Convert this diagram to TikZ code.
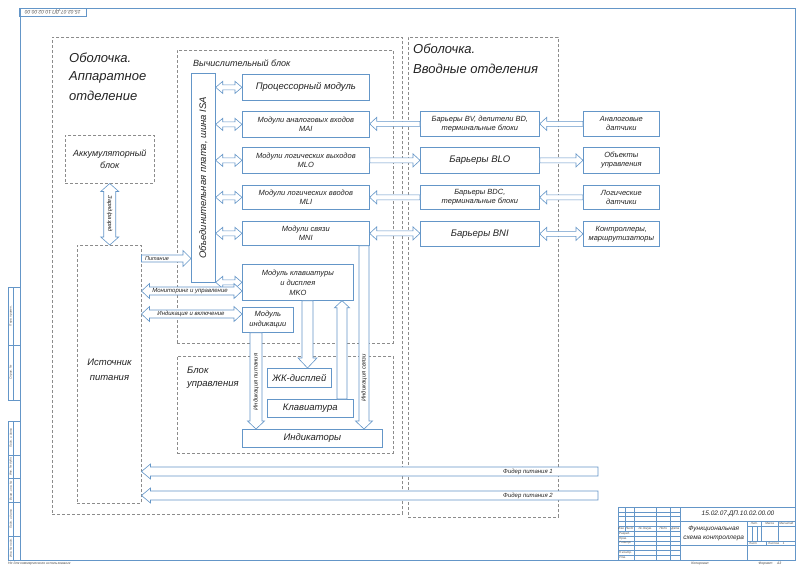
\documentclass[tikz,border=0pt]{standalone}
\usepackage{fontspec}
\setmainfont{Liberation Sans}
\usetikzlibrary{calc}
\definecolor{bl}{RGB}{100,150,200}
\definecolor{dg}{RGB}{140,140,140}
\definecolor{tx}{RGB}{35,35,35}
\newcommand\fs[2]{\fontsize{#1}{#2}\selectfont\itshape}
% horizontal single arrow: start, end, shaft half, head half, head length
\newcommand\hsA[5]{\draw[arr] let \p1=(#1), \p2=(#2), \n1={sign(\x2-\x1)} in
 (\x1,{\y1+#3pt}) -- ({\x2-(\n1)*#5pt},{\y1+#3pt}) -- ({\x2-(\n1)*#5pt},{\y1+#4pt}) -- (\x2,\y1) -- ({\x2-(\n1)*#5pt},{\y1-#4pt}) -- ({\x2-(\n1)*#5pt},{\y1-#3pt}) -- (\x1,{\y1-#3pt}) -- cycle;}
\newcommand\hdA[5]{\draw[arr] let \p1=(#1), \p2=(#2), \n1={sign(\x2-\x1)} in
 (\x1,\y1) -- ({\x1+(\n1)*#5pt},{\y1+#4pt}) -- ({\x1+(\n1)*#5pt},{\y1+#3pt}) -- ({\x2-(\n1)*#5pt},{\y1+#3pt}) -- ({\x2-(\n1)*#5pt},{\y1+#4pt}) -- (\x2,\y1) -- ({\x2-(\n1)*#5pt},{\y1-#4pt}) -- ({\x2-(\n1)*#5pt},{\y1-#3pt}) -- ({\x1+(\n1)*#5pt},{\y1-#3pt}) -- ({\x1+(\n1)*#5pt},{\y1-#4pt}) -- cycle;}
\newcommand\vsA[5]{\draw[arr] let \p1=(#1), \p2=(#2), \n1={sign(\y2-\y1)} in
 ({\x1+#3pt},\y1) -- ({\x1+#3pt},{\y2-(\n1)*#5pt}) -- ({\x1+#4pt},{\y2-(\n1)*#5pt}) -- (\x1,\y2) -- ({\x1-#4pt},{\y2-(\n1)*#5pt}) -- ({\x1-#3pt},{\y2-(\n1)*#5pt}) -- ({\x1-#3pt},\y1) -- cycle;}
\newcommand\vdA[5]{\draw[arr] let \p1=(#1), \p2=(#2), \n1={sign(\y2-\y1)} in
 (\x1,\y1) -- ({\x1+#4pt},{\y1+(\n1)*#5pt}) -- ({\x1+#3pt},{\y1+(\n1)*#5pt}) -- ({\x1+#3pt},{\y2-(\n1)*#5pt}) -- ({\x1+#4pt},{\y2-(\n1)*#5pt}) -- (\x1,\y2) -- ({\x1-#4pt},{\y2-(\n1)*#5pt}) -- ({\x1-#3pt},{\y2-(\n1)*#5pt}) -- ({\x1-#3pt},{\y1+(\n1)*#5pt}) -- ({\x1-#4pt},{\y1+(\n1)*#5pt}) -- cycle;}
% box by corners
\newcommand\rbox[7][]{\node[#1, anchor=north west, minimum width={#5-#3}, minimum height={#6-#4}] (#2) at (#3,#4) {#7};}
\tikzset{
 frm/.style={draw=bl, line width=0.7pt},
 fln/.style={draw=bl, line width=0.35pt},
 box/.style={draw=bl, line width=0.7pt, fill=white, inner sep=1pt, align=center, text=tx, font=\fs{7.5}{9}},
 dbox/.style={draw=dg, line width=0.5pt, dash pattern=on 3pt off 2pt, inner sep=0},
 arr/.style={draw=bl, line width=0.6pt, fill=white, line join=miter},
 lab/.style={text=tx, font=\fs{6}{7}, inner sep=0},
 head/.style={text=tx, font=\fs{13}{19}, inner sep=0, anchor=west},
 tiny/.style={text=tx!80, font=\fs{3}{3.5}, inner sep=0},
}
\begin{document}
\begin{tikzpicture}[x=1pt,y=-1pt]
\useasboundingbox (0,0) rectangle (800,566);
\fill[white] (0,0) rectangle (800,566);
% ---------- drawing frame ----------
\draw[frm] (20,8) rectangle (795,560);
\rbox[fln, inner sep=0]{tlbox}{19}{8}{86}{16}{}
\node[tiny, rotate=180, font=\fs{5}{6}] at (tlbox.center) {15.02.07.ДП.10.02.00.00};
% left strip
\draw[fln] (8.5,287) rectangle (20,400);
\draw[fln] (8.5,345) -- (20,345) (13.3,287) -- (13.3,400);
\draw[fln] (8.5,421.2) rectangle (20,560);
\draw[fln] (13.3,421.2) -- (13.3,560);
\foreach \y in {454.7,478.6,502.5,536} \draw[fln] (8.5,\y) -- (20,\y);
\node[tiny, rotate=90] at (10.9,316) {Перв. примен.};
\node[tiny, rotate=90] at (10.9,372.5) {Справ. №};
\node[tiny, rotate=90] at (10.9,438) {Подп. и дата};
\node[tiny, rotate=90] at (10.9,466.6) {Инв. № дубл.};
\node[tiny, rotate=90] at (10.9,490.5) {Взам. инв. №};
\node[tiny, rotate=90] at (10.9,519.2) {Подп. и дата};
\node[tiny, rotate=90] at (10.9,548) {Инв. № подл.};
% title block
\draw[frm] (618,507) rectangle (795,560);
\foreach \y in {511.8,516.6,521.4,526.2,531.1,535.9,540.7,545.5,550.3,555.1} \draw[fln] (618,\y) -- (680.2,\y);
\draw[fln] (624.7,507) -- (624.7,531.1);
\foreach \x in {634.3,656.3,670.6} \draw[fln] (\x,507) -- (\x,560);
\draw[frm] (680.2,507) -- (680.2,560);
\draw[frm] (680.2,521.4) -- (795,521.4);
\draw[frm] (747.2,521.4) -- (747.2,560);
\draw[fln] (747.2,526.2) -- (795,526.2) (747.2,540.7) -- (795,540.7);
\draw[frm] (680.2,545.5) -- (795,545.5);
\draw[fln] (752,526.2) -- (752,540.7) (756.8,526.2) -- (756.8,540.7);
\draw[fln] (761.6,521.4) -- (761.6,540.7) (777.8,521.4) -- (777.8,540.7);
\draw[fln] (766.3,540.7) -- (766.3,545.5);
\node[tiny] at (621.3,528.7) {Изм.};
\node[tiny] at (629.5,528.7) {Лист};
\node[tiny] at (645.3,528.7) {№ докум.};
\node[tiny] at (663.5,528.7) {Подп.};
\node[tiny] at (675.4,528.7) {Дата};
\node[tiny, anchor=west] at (619,533.5) {Разраб.};
\node[tiny, anchor=west] at (619,538.3) {Пров.};
\node[tiny, anchor=west] at (619,543.1) {Т.контр.};
\node[tiny, anchor=west] at (619,552.7) {Н.контр.};
\node[tiny, anchor=west] at (619,557.5) {Утв.};
\node[tiny] at (754.4,523.8) {Лит.};
\node[tiny] at (769.7,523.8) {Масса};
\node[tiny] at (786.4,523.8) {Масштаб};
\node[tiny, anchor=west] at (749,543.1) {Лист};
\node[tiny, anchor=west] at (768,543.1) {Листов \quad 1};
\node[text=tx, font=\fs{6.5}{8}, inner sep=0] at (738,514.2) {15.02.07.ДП.10.02.00.00};
\node[text=tx, font=\fs{6.5}{8.5}, inner sep=0, align=center] at (713.7,533.5) {Функциональная\\схема контроллера};
\node[tiny, font=\fs{3.5}{4}] at (700,563.5) {Копировал};
\node[tiny, font=\fs{3.5}{4}] at (770,563.5) {Формат \quad А3};
\node[tiny, font=\fs{3.5}{4}, anchor=west] at (8,563.5) {Не для коммерческого использования};
% ---------- dashed enclosures ----------
\rbox[dbox]{shA}{52}{37}{402}{514}{}
\rbox[dbox]{shB}{408}{37}{558}{517}{}
\rbox[dbox]{comp}{177}{50}{393}{343}{}
\rbox[dbox]{ctrl}{177}{356}{393}{453}{}
\rbox[dbox]{acc}{65}{135}{154}{183}{}
\rbox[dbox]{ps}{77}{245}{141}{503}{}
\node[head] at (69,58) {Оболочка.};
\node[head] at (69,77.5) {Аппаратное};
\node[head] at (69,96) {отделение};
\node[head] at (413,49) {Оболочка.};
\node[head] at (413,68.5) {Вводные отделения};
\node[text=tx, font=\fs{9}{10}, inner sep=0, anchor=west] at (193,63.5) {Вычислительный блок};
\node[text=tx, font=\fs{9.5}{13.5}, inner sep=0, anchor=west, align=left] at (187,377.5) {Блок\\управления};
\node[text=tx, font=\fs{9}{12}, align=center, inner sep=0] at (acc.center) {Аккумуляторный\\блок};
\node[text=tx, font=\fs{9.5}{15}, align=center, inner sep=0] at (109.5,369.5) {Источник\\питания};
% ---------- solid blocks ----------
\rbox[box]{plate}{191}{73}{215}{282}{}
\node[text=tx, font=\fs{9.5}{11}, rotate=90, inner sep=0] at (plate.center) {Объединительная плата, шина ISA};
\rbox[box, font=\fs{9.5}{11}]{proc}{242}{74}{369}{100}{Процессорный модуль}
\rbox[box]{mai}{242}{111}{369}{137}{Модули аналоговых входов\\MAI}
\rbox[box]{mlo}{242}{147}{369}{173}{Модули логических выходов\\MLO}
\rbox[box]{mli}{242}{185}{369}{209}{Модули логических вводов\\MLI}
\rbox[box]{mni}{242}{221}{369}{245}{Модули связи\\MNI}
\rbox[box, font=\fs{7.5}{10}]{mko}{242}{264}{353}{300}{Модуль клавиатуры\\и дисплея\\MKO}
\rbox[box, font=\fs{7.5}{10}]{indm}{242}{307}{293}{332}{Модуль\\индикации}
\rbox[box, font=\fs{9.5}{11}]{lcd}{267}{368}{331}{387}{ЖК-дисплей}
\rbox[box, font=\fs{9.5}{11}]{kbd}{267}{399}{353}{417}{Клавиатура}
\rbox[box, font=\fs{9.5}{11}]{ind}{242}{429}{382}{447}{Индикаторы}
\rbox[box]{bv}{420}{111}{539}{136}{Барьеры BV, делители BD,\\терминальные блоки}
\rbox[box, font=\fs{9.5}{11}]{blo}{420}{147}{539}{173}{Барьеры BLO}
\rbox[box]{bdc}{420}{185}{539}{209}{Барьеры BDC,\\терминальные блоки}
\rbox[box, font=\fs{9.5}{11}]{bni}{420}{221}{539}{246}{Барьеры BNI}
\rbox[box]{ad}{583}{111}{659}{136}{Аналоговые\\датчики}
\rbox[box]{obj}{583}{147}{659}{173}{Объекты\\управления}
\rbox[box]{ld}{583}{185}{659}{209}{Логические\\датчики}
\rbox[box]{ctl}{583}{221}{659}{246}{Контроллеры,\\маршрутизаторы}
% ---------- arrows ----------
\foreach \m in {proc,mai,mlo,mli,mni,mko} {\hdA{plate.east |- \m.west}{\m.west}{2.5}{6}{7}}
\hsA{bv.west}{mai.east |- bv.west}{2.5}{6.5}{7}
\hsA{ad.west}{bv.east |- ad.west}{2.5}{6.5}{7}
\hsA{mlo.east}{blo.west |- mlo.east}{2.5}{6.5}{7}
\hsA{blo.east}{obj.west |- blo.east}{2.5}{6.5}{7}
\hsA{bdc.west}{mli.east |- bdc.west}{2.5}{6.5}{7}
\hsA{ld.west}{bdc.east |- ld.west}{2.5}{6.5}{7}
\hdA{mni.east}{bni.west |- mni.east}{2.5}{6.5}{7}
\hdA{bni.east}{ctl.west |- bni.east}{2.5}{6.5}{7}
\coordinate (yPit) at (0,258.5);
\coordinate (yMon) at (0,291);
\coordinate (yInc) at (0,314);
\coordinate (xIP) at (256,0);
\coordinate (xLCD) at (307.5,0);
\coordinate (xKbd) at (342,0);
\coordinate (xMNI) at (364,0);
\coordinate (f1) at (598,471.5);
\coordinate (f2) at (598,495.5);
\hsA{ps.east |- yPit}{plate.west |- yPit}{3.5}{8}{8}
\node[lab, font=\fs{5.5}{6}] at (157,258.5) {Питание};
\hdA{ps.east |- yMon}{mko.west |- yMon}{4}{7.5}{8}
\node[lab] at (190,291) {Мониторинг и управление};
\hdA{ps.east |- yInc}{indm.west |- yInc}{4}{7.5}{8}
\node[lab] at (191,314) {Индикация и включение};
\vdA{acc.south}{ps.north -| acc.south}{6}{9}{8}
\node[lab, rotate=-90, font=\fs{5.8}{6}] at (109.5,214) {Заряд/разряд};
\vsA{indm.south -| xIP}{ind.north -| xIP}{6}{8.5}{8}
\node[lab, rotate=90] at (256,382) {Индикация питания};
\vsA{mko.south -| xLCD}{lcd.north -| xLCD}{5.5}{9.5}{10}
\vsA{kbd.north -| xKbd}{mko.south -| xKbd}{5}{7.5}{7}
\vsA{mni.south -| xMNI}{ind.north -| xMNI}{5}{8.5}{8}
\node[lab, rotate=90] at (364,378) {Индикация связи};
\hsA{f1}{ps.east |- f1}{4.5}{7.5}{9}
\node[lab] at (528,471.5) {Фидер питания 1};
\hsA{f2}{ps.east |- f2}{4.5}{7.5}{9}
\node[lab] at (528,495.5) {Фидер питания 2};
\end{tikzpicture}
\end{document}
